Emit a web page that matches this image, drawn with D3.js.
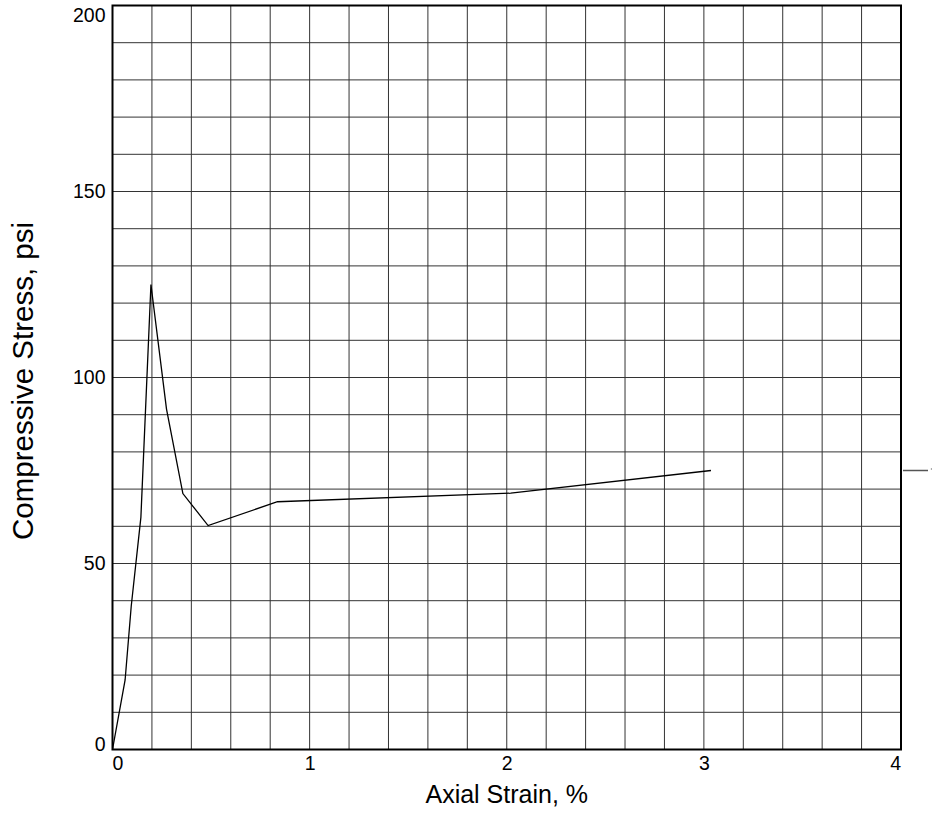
<!DOCTYPE html>
<html>
<head>
<meta charset="utf-8">
<script src="https://cdn.jsdelivr.net/npm/d3@7"></script>
<style>
  html, body { margin: 0; padding: 0; background: #fff; }
  svg { display: block; font-family: "Liberation Sans", Arial, sans-serif; }
</style>
</head>
<body>
<svg id="chart" width="932" height="826"></svg>
<script>
// Stress–strain curve of the specimen
const strain = [0, 0.064, 0.095, 0.144, 0.195, 0.274, 0.357, 0.485, 0.837, 2.02, 3.036];
const stress = [0, 18.7, 38.5, 62.4, 125, 91.5, 68.8, 60.2, 66.6, 68.9, 75];

const xTicks = [0, 1, 2, 3, 4];
const yTicks = [0, 50, 100, 150, 200];
const xTitle = "Axial Strain, %";
const yTitle = "Compressive Stress, psi";

const W = 932, H = 826;
const margin = { left: 112.5, top: 5.5, right: 31, bottom: 76.5 };
const pw = W - margin.left - margin.right;
const ph = H - margin.top - margin.bottom;

const svg = d3.select("#chart");
const g = svg.append("g").attr("transform", `translate(${margin.left},${margin.top})`);

const x = d3.scaleLinear().domain([0, 4]).range([0, pw]);
const y = d3.scaleLinear().domain([0, 200]).range([ph, 0]);

// Grid: every 0.2 % strain and every 10 psi
const grid = g.append("g").attr("stroke", "#333").attr("stroke-width", 1);
grid.selectAll("line.gx").data(d3.range(1, 20).map(i => i * 0.2)).join("line")
  .attr("x1", d => x(d)).attr("x2", d => x(d)).attr("y1", 0).attr("y2", ph);
grid.selectAll("line.gy").data(d3.range(1, 20).map(i => i * 10)).join("line")
  .attr("y1", d => y(d)).attr("y2", d => y(d)).attr("x1", 0).attr("x2", pw);

// Axes (labels only; frame drawn separately)
const xAxis = g.append("g").attr("transform", `translate(0,${ph})`)
  .call(d3.axisBottom(x).tickValues(xTicks).tickFormat(d3.format("d")).tickSize(0).tickPadding(7));
const yAxis = g.append("g")
  .call(d3.axisLeft(y).tickValues(yTicks).tickFormat(d3.format("d")).tickSize(0).tickPadding(7));
[xAxis, yAxis].forEach(a => {
  a.select(".domain").remove();
  a.selectAll("text").attr("font-size", 19.5).attr("fill", "#000").attr("font-family", "Liberation Sans, Arial, sans-serif");
});
// keep the end labels inside the frame
xAxis.selectAll("text").filter(d => d === 0).attr("dx", "0.25em");
xAxis.selectAll("text").filter(d => d === 4).attr("dx", "-0.3em");
yAxis.selectAll("text").filter(d => d === 200).attr("dy", "0.8em");
yAxis.selectAll("text").filter(d => d === 0).attr("dy", "0.05em");

// Frame
g.append("rect").attr("x", 0).attr("y", 0).attr("width", pw).attr("height", ph)
  .attr("fill", "none").attr("stroke", "#000").attr("stroke-width", 2);

// Curve
const pts = strain.map((s, i) => [s, stress[i]]);
g.append("path").datum(pts)
  .attr("fill", "none").attr("stroke", "#000").attr("stroke-width", 1.3)
  .attr("d", d3.line().x(d => x(d[0])).y(d => y(d[1])));

// End-value leader to the right of the frame
const last = stress[stress.length - 1];
g.append("line")
  .attr("x1", pw + 2).attr("x2", pw + 27)
  .attr("y1", y(last)).attr("y2", y(last))
  .attr("stroke", "#555").attr("stroke-width", 1.5);
g.append("circle").attr("cx", pw + 30.5).attr("cy", y(last) - 1.5).attr("r", 0.8).attr("fill", "#888");

// Axis titles
svg.append("text")
  .attr("x", margin.left + pw / 2).attr("y", 803)
  .attr("text-anchor", "middle").attr("font-size", 25).attr("fill", "#000")
  .text(xTitle);
svg.append("text")
  .attr("transform", `translate(33,381) rotate(-90)`)
  .attr("text-anchor", "middle").attr("font-size", 29.5).attr("fill", "#000")
  .text(yTitle);
</script>
</body>
</html>
